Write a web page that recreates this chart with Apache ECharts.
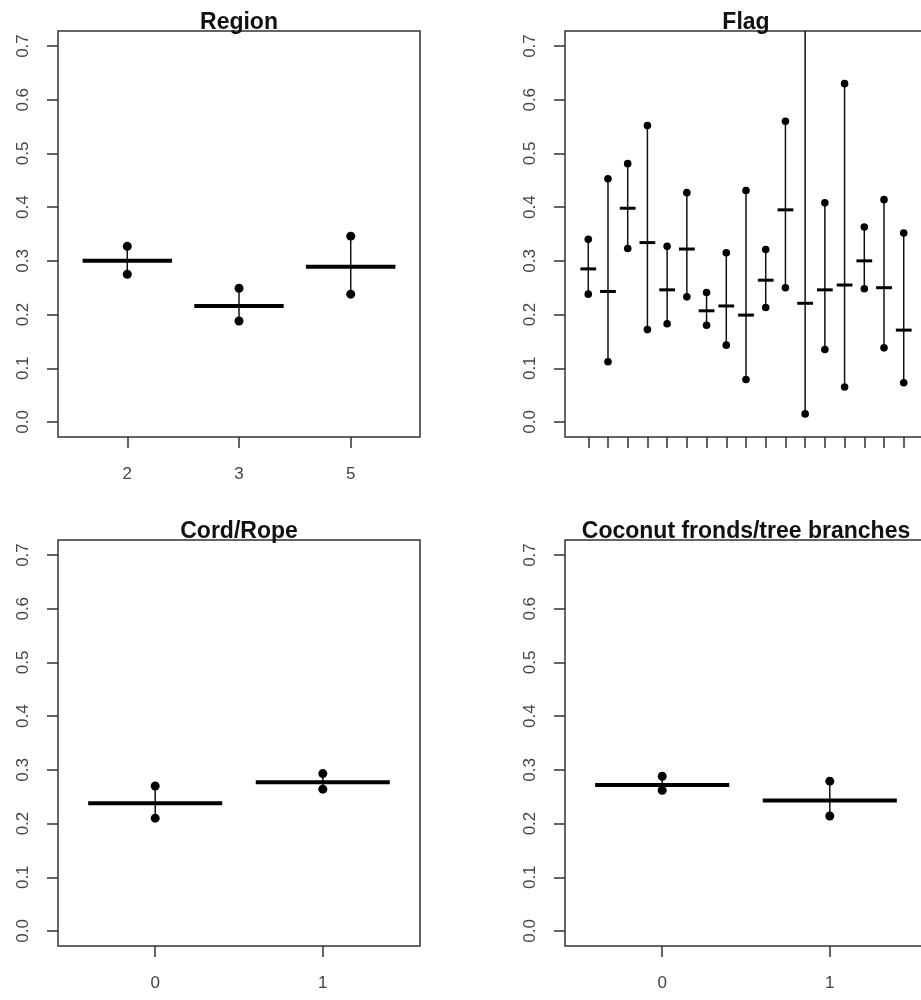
<!DOCTYPE html>
<html>
<head>
<meta charset="utf-8">
<script src="https://cdn.jsdelivr.net/npm/echarts@6/dist/echarts.min.js"></script>
<style>
    html, body { margin: 0; padding: 0; background: #fff; overflow: hidden; width: 921px; height: 1000px; }
    /* the right-hand panels run past the window edge, as in the original picture */
    #main { width: 940px; height: 1000px; }
</style>
</head>
<body>
<div id="main"></div>
<script>
// y tick values shared by all four panels
var yTicks = [0, 0.1, 0.2, 0.3, 0.4, 0.5, 0.6, 0.7];

// Region
var regionCats = ['2', '3', '5'];
var regionMean = [0.300, 0.216, 0.289];
var regionLower = [0.275, 0.188, 0.238];
var regionUpper = [0.327, 0.249, 0.346];

// Flag (category labels are blank in the picture)
var flagCats = ['', '', '', '', '', '', '', '', '', '', '', '', '', '', '', '', ''];
var flagMean = [0.285, 0.243, 0.398, 0.334, 0.246, 0.322, 0.207, 0.216, 0.199, 0.264, 0.395, 0.221, 0.246, 0.255, 0.300, 0.250, 0.171];
var flagLower = [0.238, 0.112, 0.323, 0.172, 0.183, 0.233, 0.180, 0.143, 0.079, 0.213, 0.250, 0.015, 0.135, 0.065, 0.248, 0.138, 0.073];
var flagUpper = [0.340, 0.453, 0.481, 0.552, 0.327, 0.427, 0.241, 0.315, 0.431, 0.321, 0.560, 0.800, 0.408, 0.630, 0.363, 0.414, 0.352];

// Cord/Rope
var cordCats = ['0', '1'];
var cordMean = [0.238, 0.277];
var cordLower = [0.210, 0.264];
var cordUpper = [0.270, 0.293];

// Coconut fronds/tree branches
var cocoCats = ['0', '1'];
var cocoMean = [0.272, 0.243];
var cocoLower = [0.262, 0.214];
var cocoUpper = [0.288, 0.279];

(function () {
    var chart = echarts.init(document.getElementById('main'));

    var panels = [
        { title: 'Region', cats: regionCats, mean: regionMean, lo: regionLower, hi: regionUpper, left: 58, top: 31, bar: 4, dot: 4.5 },
        { title: 'Flag', cats: flagCats, mean: flagMean, lo: flagLower, hi: flagUpper, left: 565, top: 31, bar: 3, dot: 3.8 },
        { title: 'Cord/Rope', cats: cordCats, mean: cordMean, lo: cordLower, hi: cordUpper, left: 58, top: 540, bar: 4, dot: 4.5 },
        { title: 'Coconut fronds/tree branches', cats: cocoCats, mean: cocoMean, lo: cocoLower, hi: cocoUpper, left: 565, top: 540, bar: 4, dot: 4.5 }
    ];
    var W = 362, H = 406;

    var titles = [], grids = [], xAxes = [], yAxes = [], series = [];

    panels.forEach(function (p, i) {
        var n = p.cats.length;
        var pad = 0.04 * n;   // R style 4% axis extension
        var idx = [];
        for (var k = 1; k <= n; k++) idx.push(k);

        titles.push({
            text: p.title,
            left: p.left + W / 2,
            top: p.top - 20,
            textAlign: 'center',
            padding: 0,
            textStyle: {
                fontFamily: 'Liberation Sans, Arial',
                fontSize: 23,
                fontWeight: 'bold',
                color: '#111'
            }
        });

        grids.push({
            left: p.left,
            top: p.top,
            width: W,
            height: H,
            show: true,
            borderColor: '#333',
            borderWidth: 1.5,
            backgroundColor: 'transparent'
        });

        xAxes.push({
            type: 'value',
            gridIndex: i,
            position: 'bottom',
            min: 0.5 - pad,
            max: n + 0.5 + pad,
            axisLine: { show: false, onZero: false },
            splitLine: { show: false },
            axisTick: {
                show: true,
                inside: false,
                length: 11,
                customValues: idx,
                lineStyle: { color: '#333', width: 1.5 }
            },
            axisLabel: {
                show: n < 10,
                customValues: idx,
                margin: 29,
                fontFamily: 'Liberation Sans, Arial',
                fontSize: 17,
                color: '#444',
                formatter: function (v) { return p.cats[Math.round(v) - 1]; }
            }
        });

        yAxes.push({
            type: 'value',
            gridIndex: i,
            position: 'left',
            min: -0.028,
            max: 0.728,
            axisLine: { show: false, onZero: false },
            splitLine: { show: false },
            axisTick: {
                show: true,
                inside: false,
                length: 11,
                customValues: yTicks,
                lineStyle: { color: '#333', width: 1.5 }
            },
            axisLabel: {
                customValues: yTicks,
                rotate: 90,
                margin: 26,
                fontFamily: 'Liberation Sans, Arial',
                fontSize: 17,
                color: '#444',
                formatter: function (v) { return v.toFixed(1); }
            }
        });

        var data = p.mean.map(function (m, j) {
            return [j + 1, m, p.lo[j], p.hi[j]];
        });

        series.push({
            type: 'custom',
            xAxisIndex: i,
            yAxisIndex: i,
            clip: true,
            data: data,
            encode: { x: 0, y: [1, 2, 3] },
            renderItem: function (params, api) {
                var x = api.value(0);
                var lo = api.coord([x, api.value(2)]);
                var hi = api.coord([x, api.value(3)]);
                var ml = api.coord([x - 0.4, api.value(1)]);
                var mr = api.coord([x + 0.4, api.value(1)]);
                return {
                    type: 'group',
                    children: [
                        {
                            type: 'line',
                            shape: { x1: lo[0], y1: lo[1], x2: hi[0], y2: hi[1] },
                            style: { stroke: '#111', lineWidth: 1.5 }
                        },
                        {
                            type: 'line',
                            shape: { x1: ml[0], y1: ml[1], x2: mr[0], y2: mr[1] },
                            style: { stroke: '#000', lineWidth: p.bar }
                        },
                        {
                            type: 'circle',
                            shape: { cx: lo[0], cy: lo[1], r: p.dot },
                            style: { fill: '#000' }
                        },
                        {
                            type: 'circle',
                            shape: { cx: hi[0], cy: hi[1], r: p.dot },
                            style: { fill: '#000' }
                        }
                    ]
                };
            }
        });
    });

    var option = {
        backgroundColor: '#fff',
        animation: false,
        title: titles,
        grid: grids,
        xAxis: xAxes,
        yAxis: yAxes,
        series: series
    };
    chart.setOption(option);
})();
</script>
</body>
</html>
